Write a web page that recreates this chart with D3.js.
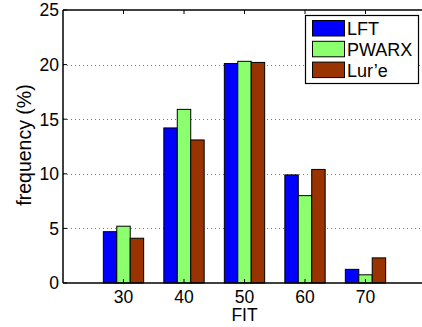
<!DOCTYPE html>
<html>
<head>
<meta charset="utf-8">
<script src="https://cdn.jsdelivr.net/npm/d3@7"></script>
<style>
  body { margin: 0; background: #fff; }
  svg { display: block; font-family: "Liberation Sans", Arial, sans-serif; }
</style>
</head>
<body>
<div id="chart"></div>
<script>
// Data
const categories = [30, 40, 50, 60, 70];
const seriesNames = ['LFT', 'PWARX', "Lur\u2019e"];
const lftValues = [4.7, 14.2, 20.1, 9.9, 1.25];
const pwarxValues = [5.2, 15.9, 20.3, 8.0, 0.75];
const lureValues = [4.1, 13.1, 20.2, 10.4, 2.3];
const yTicks = [0, 5, 10, 15, 20, 25];
const colors = ['#0000ff', '#8cff6e', '#993300'];

const seriesValues = [lftValues, pwarxValues, lureValues];

const width = 422, height = 327;
const margin = { left: 63, top: 10, bottom: 283 };
const fontSize = 17.5;

const svg = d3.select('#chart')
  .append('svg')
  .attr('width', width)
  .attr('height', height);

// x axis runs off the right edge of the picture, as in the reference
const x = d3.scaleLinear().domain([20, 80]).range([margin.left, 426]);
const y = d3.scaleLinear().domain([0, 25]).range([margin.bottom, margin.top]);

// dotted grid lines
svg.append('g')
  .selectAll('line')
  .data(yTicks.filter(d => d > 0 && d < 25))
  .join('line')
  .attr('x1', margin.left)
  .attr('x2', width)
  .attr('y1', d => Math.round(y(d)) + 0.5)
  .attr('y2', d => Math.round(y(d)) + 0.5)
  .attr('stroke', '#777')
  .attr('stroke-width', 1)
  .attr('stroke-dasharray', '1,3');

// grouped bars, MATLAB style: group width 2/3 of category spacing
const barW = (x(categories[1]) - x(categories[0])) * (2 / 3) / seriesValues.length;
seriesValues.forEach((vals, s) => {
  svg.append('g')
    .selectAll('rect')
    .data(vals)
    .join('rect')
    .attr('x', (d, i) => x(categories[i]) - 1.5 * barW + s * barW)
    .attr('y', d => y(d))
    .attr('width', barW)
    .attr('height', d => y(0) - y(d))
    .attr('fill', colors[s])
    .attr('stroke', '#000')
    .attr('stroke-width', 1);
});

// axes box lines
const axisG = svg.append('g').attr('stroke', '#000').attr('stroke-width', 1.5);
axisG.append('line').attr('x1', margin.left).attr('x2', width)
  .attr('y1', y(0)).attr('y2', y(0));
axisG.append('line').attr('x1', margin.left).attr('x2', width)
  .attr('y1', y(25)).attr('y2', y(25));
axisG.append('line').attr('x1', margin.left).attr('x2', margin.left)
  .attr('y1', y(0)).attr('y2', y(25));

// y ticks and labels
const yAxis = svg.append('g');
yAxis.selectAll('line')
  .data(yTicks)
  .join('line')
  .attr('x1', margin.left).attr('x2', margin.left + 4)
  .attr('y1', d => y(d)).attr('y2', d => y(d))
  .attr('stroke', '#000');
yAxis.selectAll('text')
  .data(yTicks)
  .join('text')
  .attr('x', margin.left - 4)
  .attr('y', d => y(d))
  .attr('dy', '0.36em')
  .attr('text-anchor', 'end')
  .attr('font-size', fontSize)
  .text(d => d);

// x ticks (bottom and top, inward) and labels
const xAxis = svg.append('g');
xAxis.selectAll('line.b')
  .data(categories)
  .join('line')
  .attr('class', 'b')
  .attr('x1', d => x(d)).attr('x2', d => x(d))
  .attr('y1', y(0)).attr('y2', y(0) - 4)
  .attr('stroke', '#000');
xAxis.selectAll('line.t')
  .data(categories)
  .join('line')
  .attr('class', 't')
  .attr('x1', d => x(d)).attr('x2', d => x(d))
  .attr('y1', y(25)).attr('y2', y(25) + 4)
  .attr('stroke', '#000');
xAxis.selectAll('text')
  .data(categories)
  .join('text')
  .attr('x', d => x(d))
  .attr('y', 302.5)
  .attr('text-anchor', 'middle')
  .attr('font-size', fontSize)
  .text(d => d);

// axis titles
svg.append('text')
  .attr('x', x(50))
  .attr('y', 321)
  .attr('text-anchor', 'middle')
  .attr('font-size', fontSize)
  .text('FIT');

svg.append('text')
  .attr('transform', 'translate(31,145) rotate(-90)')
  .attr('text-anchor', 'middle')
  .attr('font-size', 19.5)
  .text('frequency (%)');

// legend
const legend = svg.append('g').attr('transform', 'translate(305,15)');
legend.append('rect')
  .attr('x', 0.5).attr('y', 0.5)
  .attr('width', 113).attr('height', 68)
  .attr('fill', '#fff')
  .attr('stroke', '#000')
  .attr('stroke-width', 1.2);
seriesNames.forEach((name, i) => {
  const row = legend.append('g').attr('transform', `translate(0,${5.5 + i * 20.8})`);
  row.append('rect')
    .attr('x', 7.5).attr('y', 0)
    .attr('width', 32).attr('height', 15.5)
    .attr('fill', colors[i])
    .attr('stroke', '#000');
  row.append('text')
    .attr('x', 42)
    .attr('y', 14.5)
    .attr('font-size', 18)
    .text(name);
});
</script>
</body>
</html>
